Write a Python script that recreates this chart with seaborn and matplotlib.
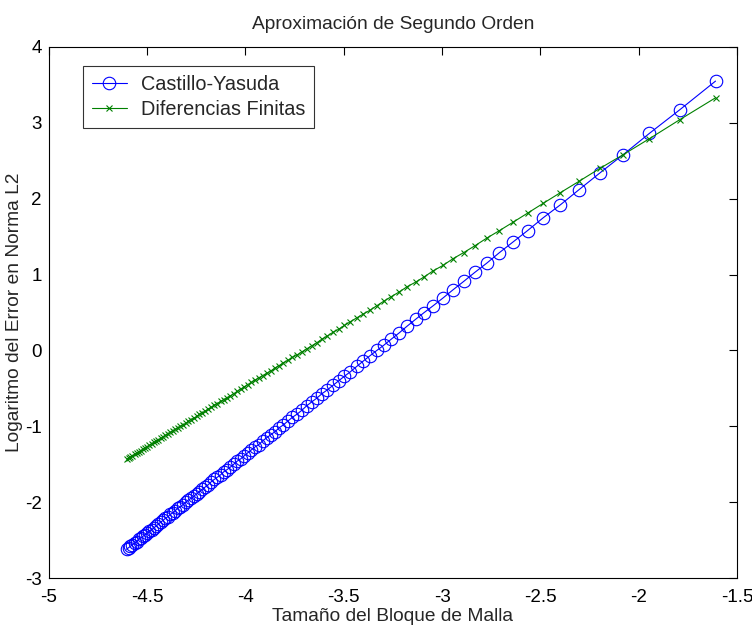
import matplotlib
matplotlib.use("Agg")
import matplotlib.pyplot as plt
import seaborn as sns
import pandas as pd

# Mesh block size (log scale), one point per mesh
x_vals = [-1.609, -1.792, -1.946, -2.079, -2.197, -2.303, -2.398, -2.485, -2.565, -2.639,
          -2.708, -2.773, -2.833, -2.890, -2.944, -2.996, -3.045, -3.091, -3.135, -3.178,
          -3.219, -3.258, -3.296, -3.332, -3.367, -3.401, -3.434, -3.466, -3.497, -3.526,
          -3.555, -3.584, -3.611, -3.638, -3.664, -3.689, -3.714, -3.738, -3.761, -3.784,
          -3.807, -3.829, -3.850, -3.871, -3.892, -3.912, -3.932, -3.951, -3.970, -3.989,
          -4.007, -4.025, -4.043, -4.060, -4.078, -4.094, -4.111, -4.127, -4.143, -4.159,
          -4.174, -4.190, -4.205, -4.220, -4.234, -4.248, -4.263, -4.277, -4.290, -4.304,
          -4.317, -4.331, -4.344, -4.357, -4.369, -4.382, -4.394, -4.407, -4.419, -4.431,
          -4.443, -4.454, -4.466, -4.477, -4.489, -4.500, -4.511, -4.522, -4.533, -4.543,
          -4.554, -4.564, -4.575, -4.585, -4.595, -4.605]

castillo_yasuda = [3.55, 3.17, 2.86, 2.58, 2.34, 2.12, 1.92, 1.75, 1.58, 1.43,
                   1.29, 1.15, 1.03, 0.91, 0.80, 0.69, 0.59, 0.50, 0.41, 0.32,
                   0.23, 0.15, 0.07, 0.00, -0.07, -0.14, -0.21, -0.28, -0.34, -0.40,
                   -0.46, -0.52, -0.57, -0.63, -0.68, -0.73, -0.79, -0.84, -0.88, -0.93,
                   -0.98, -1.02, -1.07, -1.11, -1.15, -1.19, -1.24, -1.27, -1.31, -1.35,
                   -1.39, -1.43, -1.46, -1.50, -1.54, -1.57, -1.60, -1.64, -1.67, -1.70,
                   -1.73, -1.77, -1.80, -1.83, -1.86, -1.89, -1.92, -1.95, -1.97, -2.00,
                   -2.03, -2.06, -2.08, -2.11, -2.14, -2.16, -2.19, -2.21, -2.24, -2.26,
                   -2.29, -2.31, -2.34, -2.36, -2.38, -2.41, -2.43, -2.45, -2.47, -2.49,
                   -2.52, -2.54, -2.56, -2.58, -2.60, -2.62]

diferencias_finitas = [3.33, 3.04, 2.79, 2.58, 2.40, 2.23, 2.08, 1.94, 1.81, 1.69,
                       1.58, 1.48, 1.38, 1.29, 1.21, 1.12, 1.05, 0.97, 0.90, 0.84,
                       0.77, 0.71, 0.65, 0.59, 0.53, 0.48, 0.43, 0.38, 0.33, 0.28,
                       0.24, 0.19, 0.15, 0.10, 0.06, 0.02, -0.02, -0.06, -0.09, -0.13,
                       -0.16, -0.20, -0.23, -0.27, -0.30, -0.33, -0.36, -0.39, -0.42, -0.45,
                       -0.48, -0.51, -0.54, -0.57, -0.60, -0.62, -0.65, -0.67, -0.70, -0.72,
                       -0.75, -0.77, -0.80, -0.82, -0.84, -0.87, -0.89, -0.91, -0.93, -0.96,
                       -0.98, -1.00, -1.02, -1.04, -1.06, -1.08, -1.10, -1.12, -1.14, -1.16,
                       -1.18, -1.19, -1.21, -1.23, -1.25, -1.27, -1.28, -1.30, -1.32, -1.34,
                       -1.35, -1.37, -1.39, -1.40, -1.42, -1.43]

series_names = ["Castillo-Yasuda", "Diferencias Finitas"]
x_ticks = [-5, -4.5, -4, -3.5, -3, -2.5, -2, -1.5]
y_ticks = [-3, -2, -1, 0, 1, 2, 3, 4]
x_tick_labels = ["-5", "-4.5", "-4", "-3.5", "-3", "-2.5", "-2", "-1.5"]
y_tick_labels = ["-3", "-2", "-1", "0", "1", "2", "3", "4"]

sns.set_style("white")
plt.rcParams["font.family"] = ["Liberation Sans", "DejaVu Sans"]

fig = plt.figure(figsize=(7.52, 6.26), dpi=100)
ax = fig.add_axes([0.065, 0.0765, 0.915, 0.8485])

df_cy = pd.DataFrame({"x": x_vals, "y": castillo_yasuda})
df_fd = pd.DataFrame({"x": x_vals, "y": diferencias_finitas})

sns.lineplot(data=df_cy, x="x", y="y", ax=ax, color="#0000ff", linewidth=0.8,
             marker="o", markersize=9, markerfacecolor="none", markeredgecolor="#0000ff",
             markeredgewidth=0.8, sort=False, label=series_names[0])
sns.lineplot(data=df_fd, x="x", y="y", ax=ax, color="#008000", linewidth=0.8,
             marker="x", markersize=5, markeredgecolor="#008000",
             markeredgewidth=0.8, sort=False, label=series_names[1])

ax.set_xlim(-5, -1.5)
ax.set_ylim(-3, 4)
ax.set_xticks(x_ticks)
ax.set_xticklabels(x_tick_labels)
ax.set_yticks(y_ticks)
ax.set_yticklabels(y_tick_labels)
ax.tick_params(axis="both", direction="in", top=True, right=True, length=5.5, width=0.8,
               labelsize=13.5, colors="black")
ax.tick_params(axis="x", pad=8)
ax.tick_params(axis="y", pad=5)
for s in ax.spines.values():
    s.set_visible(True)
    s.set_color("black")
    s.set_linewidth(0.8)

ax.set_title("Aproximación de Segundo Orden", fontsize=13.75, pad=13)
ax.set_xlabel("Tamaño del Bloque de Malla", fontsize=13.75, labelpad=1)
ax.set_ylabel("Logaritmo del Error en Norma L2", fontsize=13.75)
ax.yaxis.set_label_coords(-0.037, 0.5)

leg = ax.legend(loc="upper left", bbox_to_anchor=(0.049, 0.964), borderaxespad=0,
                fancybox=False, frameon=True, fontsize=14.3, handlelength=1.8,
                borderpad=0.45, labelspacing=0.3, handletextpad=0.7)
leg.get_frame().set_edgecolor("black")
leg.get_frame().set_linewidth(0.8)

fig.savefig("out.png", dpi=100)
